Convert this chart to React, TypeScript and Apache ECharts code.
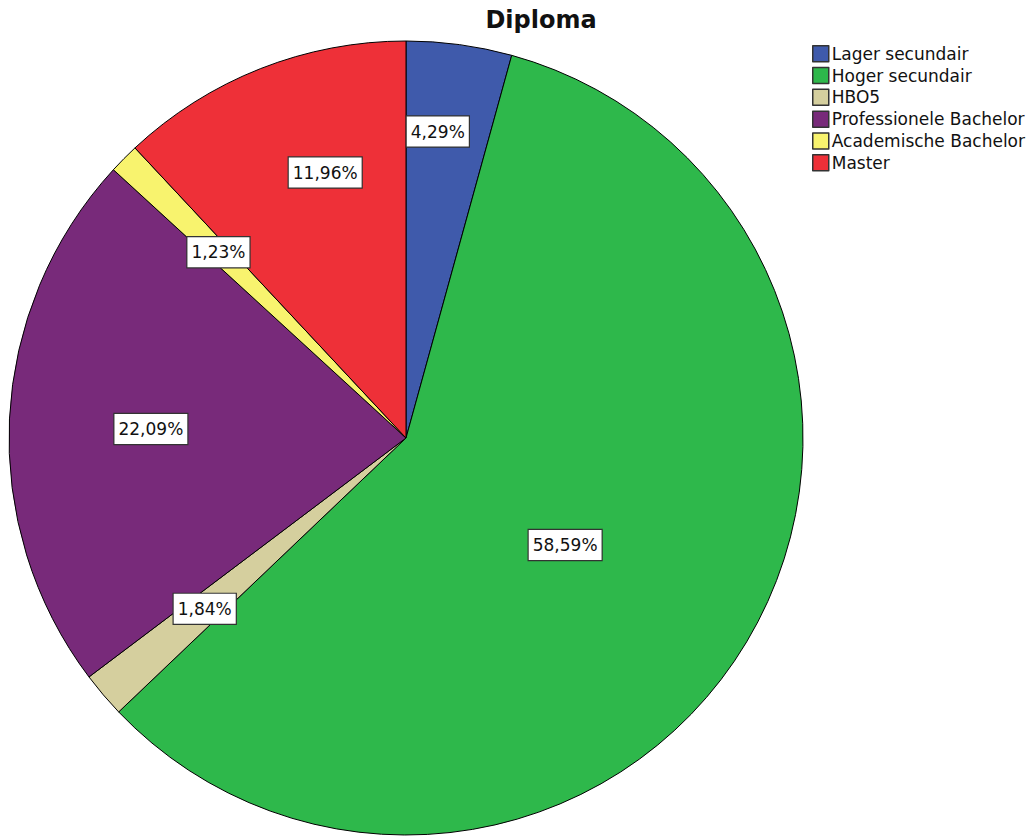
import React, { useEffect, useRef } from "react";
import * as echarts from "echarts";

// Diploma distribution (percent of respondents)
const categories = [
  "Lager secundair",
  "Hoger secundair",
  "HBO5",
  "Professionele Bachelor",
  "Academische Bachelor",
  "Master",
];
const percentages = [4.29, 58.59, 1.84, 22.09, 1.23, 11.96];
const sliceColors = ["#3F5AAB", "#2EB84B", "#D5CF9E", "#782A7A", "#F8F36E", "#EE3038"];

// Label placement inside each slice: fraction of the radius and a small angular shift (degrees)
const labelRadiusFraction = [0.776, 0.483, 0.665, 0.643, 0.665, 0.699];
const labelAngleShift = [-1.8, 3.0, 0, -0.75, 0, 4.6];

const PIE_CX = 406;
const PIE_CY = 438;
const PIE_R = 397;

const formatPct = (v: number) => v.toFixed(2).replace(".", ",") + "%";

export default function App() {
  const ref = useRef<HTMLDivElement>(null);

  useEffect(() => {
    if (!ref.current) return;
    document.body.style.margin = "0";
    const chart = echarts.init(ref.current, undefined, { renderer: "svg" });

    const total = percentages.reduce((a, b) => a + b, 0);
    const cumulative: number[] = [];
    let acc = 0;
    percentages.forEach((v) => {
      cumulative.push(acc);
      acc += v;
    });

    chart.setOption({
      animation: false,
      backgroundColor: "#ffffff",
      title: {
        text: "Diploma",
        left: 536,
        top: 3,
        textAlign: "center",
        textStyle: {
          fontFamily: "DejaVu Sans",
          fontWeight: "bold",
          fontSize: 24,
          color: "#111",
        },
      },
      legend: {
        orient: "vertical",
        left: 807,
        top: 40,
        itemWidth: 16,
        itemHeight: 16,
        itemGap: 4.3,
        icon: "rect",
        data: categories,
        selectedMode: false,
        itemStyle: { borderColor: "#333", borderWidth: 1.5 },
        textStyle: {
          fontFamily: "DejaVu Sans",
          fontSize: 17,
          lineHeight: 16,
          color: "#111",
          padding: [0, 0, 0, -2],
        },
      },
      series: [
        {
          type: "pie",
          center: [PIE_CX, PIE_CY],
          radius: PIE_R,
          startAngle: 90,
          clockwise: true,
          silent: true,
          itemStyle: { borderColor: "#000", borderWidth: 1 },
          data: categories.map((name, i) => ({
            name,
            value: percentages[i],
            itemStyle: { color: sliceColors[i] },
          })),
          label: {
            show: true,
            position: "inside",
            formatter: (p: any) => formatPct(p.value),
            fontFamily: "DejaVu Sans",
            fontSize: 17,
            lineHeight: 17,
            color: "#111",
            backgroundColor: "#ffffff",
            borderColor: "#333",
            borderWidth: 1.2,
            padding: [7, 4, 6, 4],
          },
          labelLine: { show: false },
          labelLayout: (params: any) => {
            const i = params.dataIndex;
            const mid = ((cumulative[i] + percentages[i] / 2) / total) * 360 + labelAngleShift[i];
            const rad = (mid * Math.PI) / 180;
            const r = PIE_R * labelRadiusFraction[i];
            return {
              x: PIE_CX + r * Math.sin(rad),
              y: PIE_CY - r * Math.cos(rad),
              align: "center",
              verticalAlign: "middle",
            };
          },
        },
      ],
    });

    return () => chart.dispose();
  }, []);

  return (
    <div
      ref={ref}
      style={{ position: "fixed", left: 0, top: 0, width: 1036, height: 836 }}
    />
  );
}
